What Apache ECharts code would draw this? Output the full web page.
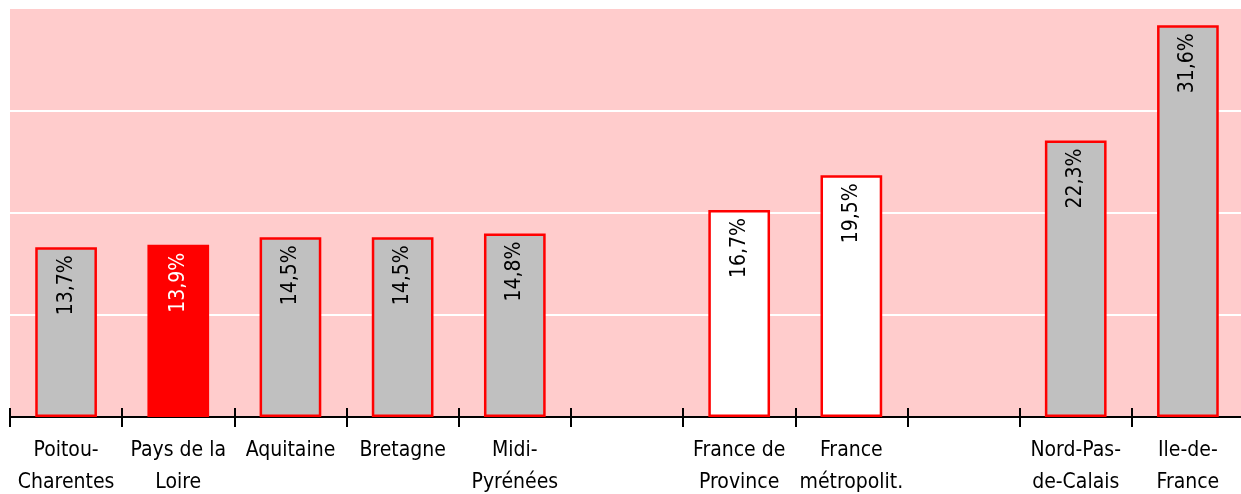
<!DOCTYPE html>
<html>
<head>
<meta charset="utf-8">
<script src="https://cdn.jsdelivr.net/npm/echarts@6/dist/echarts.min.js"></script>
<style>
  html, body { margin: 0; padding: 0; background: #fff; }
  #chart { width: 1241px; height: 494px; }
</style>
</head>
<body>
<div id="chart"></div>
<script>
// données : part en %, les catégories vides servent d'espacement
const categories = [
  'Poitou-\nCharentes', 'Pays de la\nLoire', 'Aquitaine', 'Bretagne', 'Midi-\nPyrénées',
  '', 'France de\nProvince', 'France\nmétropolit.', '', 'Nord-Pas-\nde-Calais', 'Ile-de-\nFrance'
];
const values = [13.7, 13.9, 14.5, 14.5, 14.8, null, 16.7, 19.5, null, 22.3, 31.6];
const highlighted = ['Pays de la\nLoire'];
const references = ['France de\nProvince', 'France\nmétropolit.'];

const FONT = '"DejaVu Sans Condensed", "Liberation Sans Narrow", sans-serif';

const chart = echarts.init(document.getElementById('chart'));

const barData = values.map((v, i) => {
  const name = categories[i];
  if (v === null) return { value: null };
  let fill = '#C0C0C0';
  let txt = '#000';
  if (highlighted.includes(name)) { fill = '#FF0000'; txt = '#fff'; }
  else if (references.includes(name)) { fill = '#FFFFFF'; }
  return {
    value: v,
    itemStyle: { color: fill },
    label: { color: txt }
  };
});

chart.setOption({
  animation: false,
  grid: {
    left: 10, top: 8, width: 1234, bottom: 77,
    outerBoundsMode: 'none', containLabel: false,
    show: true, backgroundColor: '#FFCCCC', borderWidth: 0
  },
  xAxis: [{
    type: 'category',
    data: categories,
    axisLine: { lineStyle: { color: '#000', width: 2 } },
    axisTick: { show: true, interval: 0, length: 10, lineStyle: { color: '#000', width: 2 } },
    axisLabel: {
      interval: 0, margin: 18, color: '#000',
      fontFamily: FONT, fontSize: 21, lineHeight: 32
    }
  }, {
    // petits traits au-dessus de l'axe
    type: 'category',
    data: categories,
    position: 'bottom',
    axisLine: { show: false },
    axisTick: { show: true, interval: 0, inside: true, length: 9, lineStyle: { color: '#000', width: 2 } },
    axisLabel: { show: false }
  }],
  yAxis: {
    type: 'value',
    min: 0, max: 33, interval: 8.25,
    axisLine: { show: false },
    axisTick: { show: false },
    axisLabel: { show: false },
    splitLine: { lineStyle: { color: '#fff', width: 2 } }
  },
  series: [{
    type: 'bar',
    barWidth: '55%',
    data: barData,
    itemStyle: { borderColor: '#FF0000', borderWidth: 2.5 },
    label: {
      show: true,
      position: 'insideTop',
      rotate: 90,
      distance: 8,
      align: 'right',
      verticalAlign: 'middle',
      fontFamily: FONT,
      fontSize: 21,
      formatter: p => p.value.toFixed(1).replace('.', ',') + '%'
    }
  }]
});
</script>
</body>
</html>
